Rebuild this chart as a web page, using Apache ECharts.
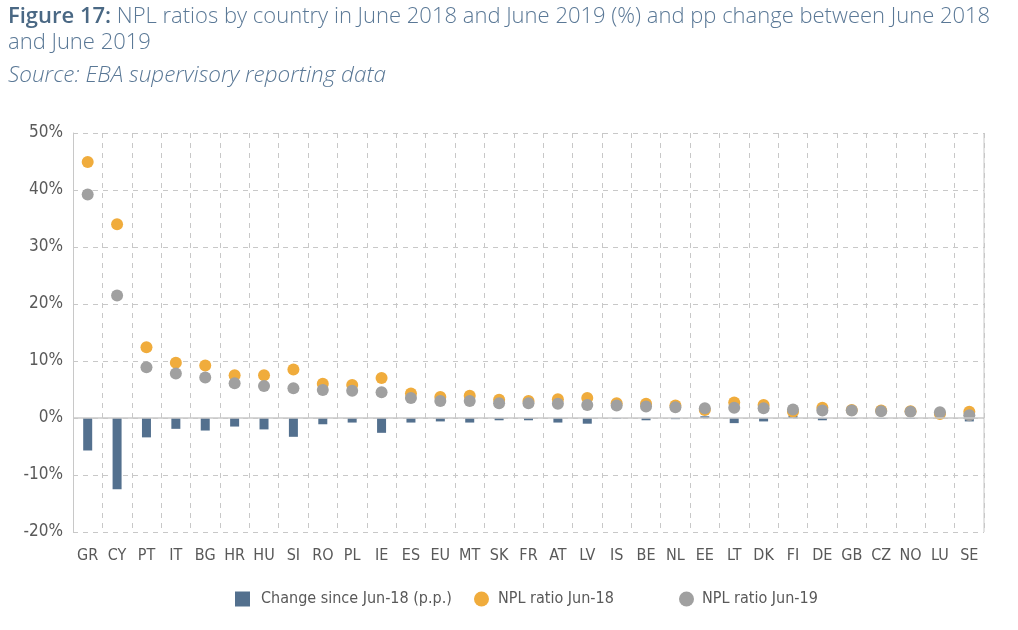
<!DOCTYPE html>
<html>
<head>
<meta charset="utf-8">
<script src="https://cdn.jsdelivr.net/npm/echarts@6/dist/echarts.min.js"></script>
<style>
html,body{margin:0;padding:0;background:#fff;}
#main{width:1018px;height:630px;}
</style>
</head>
<body>
<div id="main"></div>
<script>
const categories = ['GR','CY','PT','IT','BG','HR','HU','SI','RO','PL','IE','ES','EU','MT','SK','FR','AT','LV','IS','BE','NL','EE','LT','DK','FI','DE','GB','CZ','NO','LU','SE'];
const changeSince = [-5.7,-12.5,-3.4,-1.9,-2.2,-1.5,-2.0,-3.3,-1.1,-0.8,-2.6,-0.8,-0.6,-0.8,-0.4,-0.4,-0.8,-1.0,-0.1,-0.4,-0.2,0.3,-0.9,-0.6,0.4,-0.4,-0.1,-0.1,-0.1,0.3,-0.6];
const nplJun18 = [44.9,34.0,12.4,9.7,9.2,7.5,7.5,8.5,6.0,5.8,7.0,4.3,3.7,3.9,3.2,3.0,3.3,3.5,2.6,2.5,2.2,1.4,2.7,2.3,1.1,1.8,1.4,1.3,1.2,0.7,1.1];
const nplJun19 = [39.2,21.5,8.9,7.8,7.1,6.1,5.6,5.2,4.9,4.8,4.5,3.5,3.0,3.0,2.6,2.6,2.5,2.3,2.2,2.0,1.9,1.7,1.8,1.7,1.5,1.3,1.3,1.2,1.1,1.0,0.5];
const yTicks = [-20,-10,0,10,20,30,40,50];
const seriesNames = ['Change since Jun-18 (p.p.)','NPL ratio Jun-18','NPL ratio Jun-19'];

const axisFont = "'Liberation Sans Narrow','DejaVu Sans Condensed','Roboto Condensed','Open Sans',sans-serif";
const titleFont = "'Open Sans','Noto Sans',sans-serif";
function legendText(gap){ return {fontFamily:axisFont, fontSize:16, color:'#595959', padding:[0,0,0,gap]}; }
const chart = echarts.init(document.getElementById('main'), null, {renderer:'canvas'});
chart.setOption({
  animation:false,
  backgroundColor:'#fff',
  title:[{
    text:'{b|Figure 17:} NPL ratios by country in June 2018 and June 2019 (%) and pp change between June 2018\nand June 2019',
    left:8, top:4, padding:0,
    textStyle:{
      fontFamily:titleFont, fontSize:22, fontWeight:300, color:'#5a7896', lineHeight:26,
      rich:{b:{fontFamily:titleFont, fontSize:22, fontWeight:600, color:'#4a6884', lineHeight:26}}
    }
  },{
    text:'Source: EBA supervisory reporting data',
    left:8, top:64, padding:0,
    textStyle:{fontFamily:titleFont, fontSize:22.5, fontWeight:300, fontStyle:'italic', color:'#5a7896'}
  }],
  legend:[
    {left:230, top:586, itemWidth:15, itemHeight:15, textStyle:legendText(6), data:[{name:seriesNames[0], icon:'rect'}]},
    {left:469, top:586, itemWidth:15, itemHeight:15, textStyle:legendText(4), data:[{name:seriesNames[1], icon:'circle'}]},
    {left:674, top:586, itemWidth:15, itemHeight:15, textStyle:legendText(3), data:[{name:seriesNames[2], icon:'circle'}]}
  ],
  grid:{left:73, right:34, top:133, bottom:98},
  xAxis:{
    type:'category', data:categories, boundaryGap:true,
    axisLine:{show:false},
    axisTick:{show:false},
    axisLabel:{interval:0, fontFamily:axisFont, fontSize:16, color:'#595959', margin:16},
    splitLine:{show:true, interval:0, lineStyle:{color:'#c8c8c8', type:[5,5], width:1}}
  },
  yAxis:{
    type:'value', min:-20, max:50, interval:10,
    axisLine:{show:true, lineStyle:{color:'#c8c8c8'}},
    axisTick:{show:false},
    axisLabel:{fontFamily:axisFont, fontSize:17, color:'#595959', margin:10,
      formatter:function(v){return yTicks.indexOf(v)>=0 ? v+'%' : '';}},
    splitLine:{show:true, lineStyle:{color:'#c8c8c8', type:[5,5], width:1}}
  },
  series:[
    {name:seriesNames[0], type:'bar', data:changeSince, barWidth:9,
      itemStyle:{color:'#53708e'},
      markLine:{silent:true, symbol:'none', label:{show:false}, lineStyle:{color:'#c8c8c8', type:'solid', width:1.5}, data:[{yAxis:0}]}},
    {name:seriesNames[1], type:'scatter', data:nplJun18, symbolSize:12, itemStyle:{color:'#f0ac3c', opacity:1}},
    {name:seriesNames[2], type:'scatter', data:nplJun19, symbolSize:12, itemStyle:{color:'#a0a0a0', opacity:1}}
  ],
  graphic:[{type:'line', shape:{x1:984, y1:133, x2:984, y2:532}, style:{stroke:'#c8c8c8', lineWidth:1}}]
});
</script>
</body>
</html>
